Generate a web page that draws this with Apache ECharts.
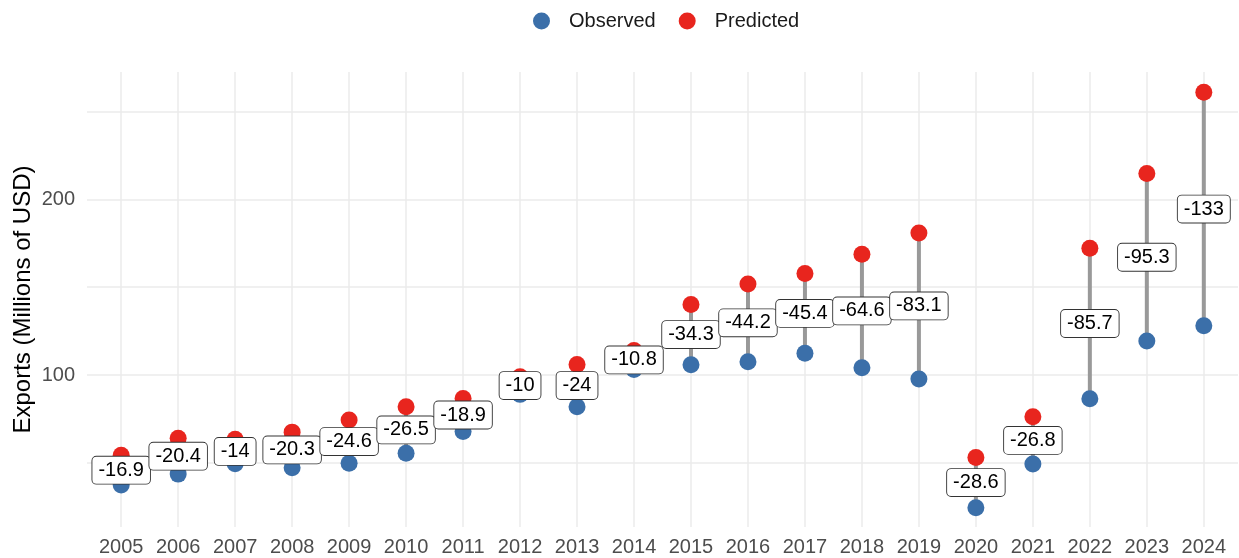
<!DOCTYPE html>
<html>
<head>
<meta charset="utf-8">
<script src="https://cdn.jsdelivr.net/npm/echarts@6/dist/echarts.min.js"></script>
<style>
  html, body { margin: 0; padding: 0; background: #fff; }
  #chart { width: 1239px; height: 558px; }
</style>
</head>
<body>
<div id="chart"></div>
<script>
// values
const years = [2005, 2006, 2007, 2008, 2009, 2010, 2011, 2012, 2013, 2014,
               2015, 2016, 2017, 2018, 2019, 2020, 2021, 2022, 2023, 2024];
const observed = [37.4, 43.6, 49.5, 47.2, 49.8, 55.5, 67.8, 89.0, 82.0, 103.2,
                  105.9, 107.6, 112.4, 104.2, 97.8, 24.5, 49.4, 86.5, 119.4, 128.0];
const predicted = [54.3, 64.0, 63.5, 67.5, 74.4, 82.0, 86.7, 99.0, 106.0, 114.0,
                   140.2, 151.8, 157.8, 168.8, 180.9, 53.1, 76.2, 172.2, 214.7, 261.0];
const diffLabels = ['-16.9', '-20.4', '-14', '-20.3', '-24.6', '-26.5', '-18.9', '-10', '-24', '-10.8',
                    '-34.3', '-44.2', '-45.4', '-64.6', '-83.1', '-28.6', '-26.8', '-85.7', '-95.3', '-133'];
const yGridValues = [50, 100, 150, 200, 250];
const yLabelValues = [100, 200];

const font = 'Liberation Sans, Arial, sans-serif';

const obsData = years.map((y, i) => [y, observed[i]]);
const predData = years.map((y, i) => [y, predicted[i]]);
const segData = years.map((y, i) => [y, observed[i], predicted[i]]);
const midData = years.map((y, i) => [y, (observed[i] + predicted[i]) / 2]);

const chart = echarts.init(document.getElementById('chart'));
chart.setOption({
  animation: false,
  textStyle: { fontFamily: font },
  legend: {
    top: 6,
    left: 528,
    itemWidth: 17,
    itemHeight: 17,
    itemGap: 23,
    icon: 'circle',
    textStyle: { fontSize: 20, color: '#1a1a1a', fontFamily: font, padding: [0, 0, 0, 14] },
    data: ['Observed', 'Predicted']
  },
  grid: { left: 87, right: 1, top: 72, bottom: 31, containLabel: false, outerBoundsMode: 'none' },
  xAxis: {
    type: 'value',
    min: 2004.4,
    max: 2024.6,
    axisLine: { show: false },
    axisTick: { show: false, customValues: years },
    axisLabel: {
      customValues: years,
      formatter: v => String(v),
      fontSize: 20,
      color: '#4d4d4d',
      margin: 10,
      fontFamily: font
    },
    splitLine: { show: true, lineStyle: { color: '#ebebeb', width: 1.5 } }
  },
  yAxis: {
    type: 'value',
    min: 13.5,
    max: 272.5,
    name: 'Exports (Millions of USD)',
    nameLocation: 'middle',
    nameGap: 52,
    nameMoveOverlap: false,
    nameTextStyle: { fontSize: 24, color: '#000', fontFamily: font },
    axisLine: { show: false },
    axisTick: { show: false, customValues: yGridValues },
    axisLabel: {
      customValues: yLabelValues,
      fontSize: 20,
      color: '#4d4d4d',
      margin: 12,
      fontFamily: font
    },
    splitLine: { show: true, lineStyle: { color: '#ebebeb', width: 1.5 } }
  },
  series: [
    {
      type: 'custom',
      name: 'segments',
      z: 1,
      silent: true,
      data: segData,
      renderItem: function (params, api) {
        const a = api.coord([api.value(0), api.value(1)]);
        const b = api.coord([api.value(0), api.value(2)]);
        return {
          type: 'line',
          shape: { x1: a[0], y1: a[1], x2: b[0], y2: b[1] },
          style: { stroke: '#999999', lineWidth: 4 }
        };
      }
    },
    {
      type: 'scatter',
      name: 'Observed',
      z: 2,
      symbolSize: 17,
      itemStyle: { color: '#3b6fa9', opacity: 1 },
      data: obsData
    },
    {
      type: 'scatter',
      name: 'Predicted',
      z: 2,
      symbolSize: 17,
      itemStyle: { color: '#e8251e', opacity: 1 },
      data: predData
    },
    {
      type: 'custom',
      name: 'labels',
      z: 5,
      silent: true,
      data: midData,
      renderItem: function (params, api) {
        const p = api.coord([api.value(0), api.value(1)]);
        return {
          type: 'text',
          x: p[0],
          y: p[1],
          style: {
            text: diffLabels[params.dataIndex],
            fontSize: 20,
            fontFamily: font,
            fill: '#000',
            align: 'center',
            verticalAlign: 'middle',
            backgroundColor: '#fff',
            borderColor: '#333',
            borderWidth: 0.9,
            borderRadius: 4,
            padding: [4, 6, 3, 6]
          }
        };
      }
    }
  ]
});
</script>
</body>
</html>
